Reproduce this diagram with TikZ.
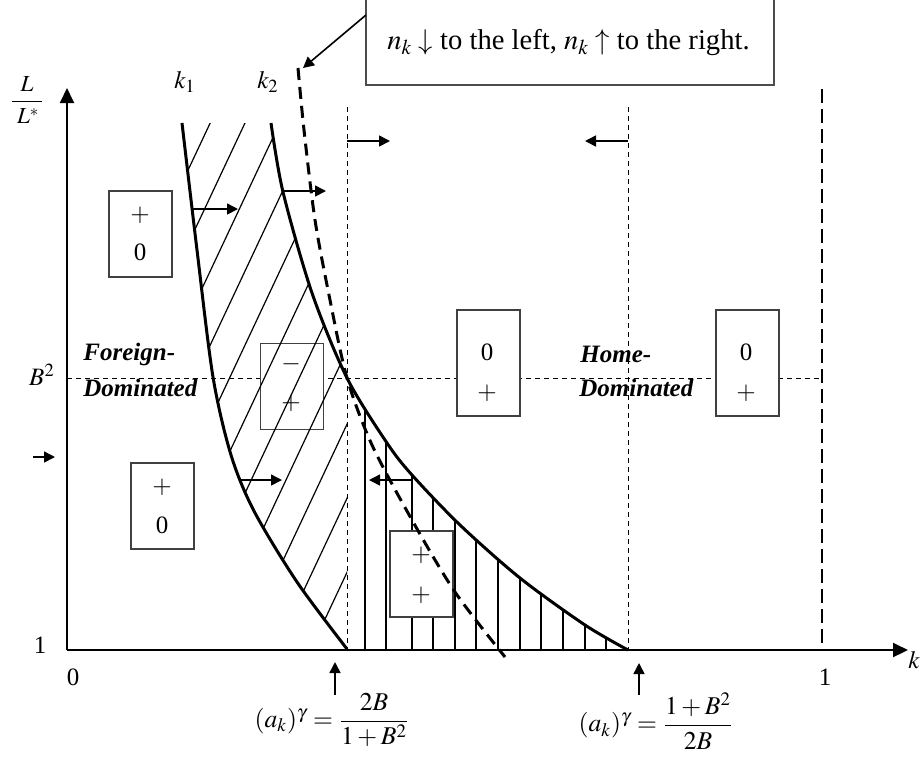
\documentclass[tikz,border=0pt]{standalone}
\usepackage{amsmath}
\usepackage{mathptmx}
\usepackage{fontspec}
\setmainfont{Liberation Serif}
\usetikzlibrary{arrows.meta}
\begin{document}
\begin{tikzpicture}[x=0.5pt,y=-0.5pt,
  axis/.style={line width=1pt,-{Triangle[length=7.5pt,width=7pt]}},
  curve/.style={line width=1.5pt},
  dcurve/.style={line width=1.5pt, dash pattern=on 6pt off 3.5pt},
  thindash/.style={line width=0.5pt, dash pattern=on 2.5pt off 2pt},
  thickdash/.style={line width=1.4pt, dash pattern=on 7pt off 3pt},
  hatch/.style={line width=0.6pt},
  signbox/.style={draw=black!75, line width=0.6pt, fill=white, minimum width=31.5pt, minimum height=43pt, inner sep=0pt},
  tallbox/.style={signbox, minimum height=53pt},
  arr/.style={line width=0.8pt,-{Triangle[length=5.5pt,width=5.5pt]}},
  lab/.style={font=\fontsize{12.5}{15}\selectfont, inner sep=0pt},
  sign/.style={font=\fontsize{12.5}{15}\selectfont, inner sep=0pt},
  dom/.style={font=\fontsize{12.5}{15}\selectfont\bfseries\itshape, anchor=west, inner sep=0pt},
  formula/.style={font=\fontsize{12.8}{15}\selectfont, inner sep=0pt},
]
\useasboundingbox (0,0) rectangle (924,757);

% reference lines
\draw[thindash] (67,378) -- (822,378);
\draw[thindash] (347,107) -- (347,650);
\draw[thindash] (628,107) -- (628,650);
\draw[thickdash] (822,89) -- (822,650);

% sign boxes (white background)
\node[signbox] (bA) at (140.5,234) {};
\node[signbox] (bB) at (162.5,506) {};
\node[signbox] (bC) at (292,386.5) {};
\node[tallbox] (bD) at (488.5,363) {};
\node[tallbox] (bE) at (747.5,363) {};

% diagonal hatching between k1 and k2
\begin{scope}
\clip plot[smooth] coordinates {(182,123) (197,250) (213,377) (231,455) (254,511) (297,582) (347,649)} -- (347,378) -- plot[smooth] coordinates {(347,378) (312,293) (283,192) (271,123)} -- cycle;
\foreach \i in {0,...,10} {
  \pgfmathsetmacro{\hc}{268+34.8*\i}
  \draw[hatch] ({\hc-0.47*100},100) -- ({\hc-0.47*660},660);
}
\end{scope}

% vertical hatching below k2
\begin{scope}
\clip (347,650) -- (347,378) -- plot[smooth] coordinates {(347,378) (387,443) (412,475) (460,525) (520,578) (585,625) (628,650)} -- cycle;
\foreach \x in {365,386,412,433,455,476,498,520,541,563,585,606}
  \draw[hatch] (\x,370) -- (\x,650);
\end{scope}

\node[signbox] (bF) at (421.5,574) {};

% curves
\draw[curve] plot[smooth] coordinates {(182,123) (197,250) (213,377) (231,455) (254,511) (297,582) (347,649)};
\draw[curve] plot[smooth] coordinates {(271,123) (283,192) (312,293) (347,378) (387,443) (412,475) (460,525) (520,578) (585,625) (628,650)};
\draw[dcurve] plot[smooth] coordinates {(298,68) (304,130) (315,220) (330,300) (347,378) (372,445) (412,520) (455,592) (505,657)};

% axes
\coordinate (O) at (67,650);
\coordinate (ytip) at (67,88);
\coordinate (xtip) at (908,650);
\draw[axis] (O) -- (ytip);
\draw[axis] (O) -- (xtip);

% signs in boxes
\node[sign] (sA1) at (140,215) {$+$};
\node[sign] (sA2) at (140,252) {0};
\node[sign] (sB1) at (162,487) {$+$};
\node[sign] (sB2) at (162,525) {0};
\node[sign] (sC1) at (291,364) {$-$};
\node[sign] (sC2) at (291,403) {$+$};
\node[sign] (sD1) at (487,352) {0};
\node[sign] (sD2) at (487,393) {$+$};
\node[sign] (sE1) at (746,352) {0};
\node[sign] (sE2) at (746,393) {$+$};
\node[sign] (sF1) at (421,555) {$+$};
\node[sign] (sF2) at (421,595) {$+$};

% region labels
\node[dom] (fd1) at (83,354) {Foreign-};
\node[dom] (fd2) at (83,388) {Dominated};
\node[dom] (hd1) at (580,354) {Home-};
\node[dom] (hd2) at (579,388) {Dominated};

% shift arrows
\coordinate (a1s) at (192,209); \coordinate (a1e) at (238,209);
\coordinate (a2s) at (283,191); \coordinate (a2e) at (326,191);
\coordinate (a3s) at (347,141); \coordinate (a3e) at (390,141);
\coordinate (a4s) at (628,141); \coordinate (a4e) at (585,141);
\coordinate (a5s) at (239,480); \coordinate (a5e) at (282,480);
\coordinate (a6s) at (413,480); \coordinate (a6e) at (369,480);
\coordinate (a7s) at (33,457);  \coordinate (a7e) at (55,457);
\coordinate (a8s) at (335,695); \coordinate (a8e) at (335,662);
\coordinate (a9s) at (639,695); \coordinate (a9e) at (639,663);
\foreach \n in {1,...,9} \draw[arr] (a\n s) -- (a\n e);

% callout box
\node[draw=black!70, line width=0.6pt, minimum width=204pt, minimum height=50pt, inner sep=0pt] (topbox) at (570,35) {};
\node[lab, font=\fontsize{14.3}{17}\selectfont] (toptext) at (568.5,43) {$n_k\downarrow$ to the left, $n_k\uparrow$ to the right.};
\coordinate (cs) at (366,15);
\coordinate (ce) at (303,68);
\draw[arr] (cs) -- (ce);

% axis labels
\node[lab, font=\fontsize{11.5}{13}\selectfont] (ylab) at (27,100) {$\dfrac{L}{\;L^{*}\,}$};
\node[lab] (xlab) at (914,660) {$k$};
\node[lab] (k1) at (185,82) {$k_1$};
\node[lab] (k2) at (268,82) {$k_2$};
\node[lab] (zero) at (73,677) {0};
\node[lab] (yone) at (40,645) {1};
\node[lab] (xone) at (825,677) {1};
\node[lab] (b2) at (42,375) {$B^{2}$};

% formulas
\node[formula] (f1) at (332,720) {$(a_k)^{\gamma}=\dfrac{2B}{1+B^{2}}$};
\node[formula] (f2) at (656,721) {$(a_k)^{\gamma}=\dfrac{1+B^{2}}{2B}$};
\end{tikzpicture}
\end{document}
